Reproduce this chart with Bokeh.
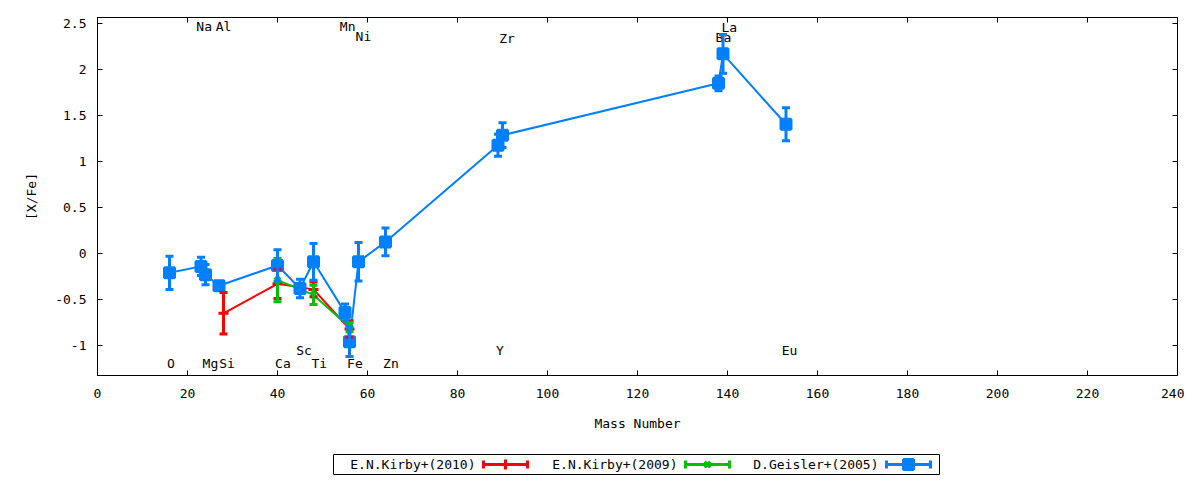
from bokeh.plotting import figure
from bokeh.models import (ColumnDataSource, Whisker, TeeHead, FixedTicker,
                          PrintfTickFormatter, LinearAxis, Range1d)
from bokeh.layouts import column
from bokeh.core.properties import value
from bokeh.embed import file_html
from bokeh.resources import INLINE

# ---------------- data ----------------
# E.N.Kirby+(2010)
kirby10_mass = [28, 40, 48, 56]
kirby10_xfe = [-0.65, -0.33, -0.39, -0.82]
kirby10_err = [0.225, 0.16, 0.08, 0.09]

# E.N.Kirby+(2009)
kirby09_mass = [40, 48, 56]
kirby09_xfe = [-0.29, -0.45, -0.80]
kirby09_err = [0.235, 0.105, 0.05]

# D.Geisler+(2005)
geisler_mass = [16, 23, 24, 27, 40, 45, 48, 55, 56, 58, 64, 89, 90, 138, 139, 153]
geisler_xfe = [-0.21, -0.14, -0.23, -0.35, -0.13, -0.38, -0.09, -0.64, -0.96,
               -0.09, 0.126, 1.177, 1.286, 1.85, 2.17, 1.405]
geisler_err = [0.18, 0.10, 0.11, 0.04, 0.17, 0.10, 0.20, 0.09, 0.16,
               0.21, 0.15, 0.12, 0.135, 0.08, 0.21, 0.18]

# element labels (name, mass position, [X/Fe] position)
elem_names = ["O", "Mg", "Si", "Ca", "Sc", "Ti", "Fe", "Zn", "Na", "Al",
              "Mn", "Ni", "Zr", "Ba", "La", "Y", "Eu"]
elem_x = [16.3, 25.1, 28.8, 41.2, 45.9, 49.3, 57.2, 65.2, 23.7, 28.0,
          55.6, 59.1, 91.0, 139.1, 140.4, 89.4, 153.8]
elem_y = [-1.198, -1.198, -1.198, -1.198, -1.05, -1.198, -1.198, -1.198, 2.463, 2.463,
          2.463, 2.36, 2.34, 2.345, 2.454, -1.05, -1.05]

x_ticks = [0, 20, 40, 60, 80, 100, 120, 140, 160, 180, 200, 220, 240]
y_ticks = [-1, -0.5, 0, 0.5, 1, 1.5, 2, 2.5]

series_names = ["E.N.Kirby+(2010)", "E.N.Kirby+(2009)", "D.Geisler+(2005)"]

# ---------------- style ----------------
FONT = "DejaVu Sans Mono"
FS = "13px"
RED = "#ff0000"
GREEN = "#00c000"
BLUE = "#0080ff"

FL, FW, FT, FH = 97, 1080, 17, 358   # frame left / width / top / height (px)

p = figure(frame_width=FW, frame_height=FH,
           min_border_left=FL, min_border_right=7, min_border_top=FT, min_border_bottom=57,
           x_range=Range1d(0, 240), y_range=Range1d(-1.326, 2.565),
           output_backend="svg", toolbar_location=None,
           background_fill_color="white", border_fill_color="white")
p.outline_line_color = "black"
p.xgrid.visible = False
p.ygrid.visible = False

for ax in p.xaxis:
    ax.ticker = FixedTicker(ticks=x_ticks)
for ax in p.yaxis:
    ax.ticker = FixedTicker(ticks=y_ticks)

def style_axis(ax):
    ax.formatter = PrintfTickFormatter(format="%g")
    ax.major_tick_in = 5
    ax.major_tick_out = 0
    ax.minor_tick_in = 0
    ax.minor_tick_out = 0
    ax.axis_line_color = "black"
    ax.major_tick_line_color = "black"
    ax.major_label_text_font = FONT
    ax.major_label_text_font_size = FS
    ax.major_label_text_color = "black"
    ax.axis_label_text_font = FONT
    ax.axis_label_text_font_size = FS
    ax.axis_label_text_font_style = "normal"
    ax.axis_label_text_color = "black"

style_axis(p.xaxis[0])
style_axis(p.yaxis[0])
p.xaxis[0].axis_label = "Mass Number"
p.yaxis[0].axis_label = "[X/Fe]"
p.xaxis[0].major_label_standoff = 13
p.xaxis[0].axis_label_standoff = 15
p.yaxis[0].major_label_standoff = 11
p.yaxis[0].axis_label_standoff = 13

top_ax = LinearAxis(ticker=FixedTicker(ticks=x_ticks))
style_axis(top_ax)
top_ax.major_label_overrides = {t: "" for t in x_ticks}
top_ax.major_label_standoff = 0
p.add_layout(top_ax, "above")
right_ax = LinearAxis(ticker=FixedTicker(ticks=y_ticks))
style_axis(right_ax)
right_ax.major_label_overrides = {t: "" for t in y_ticks}
right_ax.major_label_standoff = 0
p.add_layout(right_ax, "right")

def add_series(mass, xfe, err, color, marker, msize):
    src = ColumnDataSource(dict(
        x=mass, y=xfe,
        upper=[v + e for v, e in zip(xfe, err)],
        lower=[v - e for v, e in zip(xfe, err)]))
    p.line("x", "y", source=src, line_color=color, line_width=2)
    w = Whisker(base="x", upper="upper", lower="lower", source=src,
                line_color=color, line_width=3, level="glyph",
                upper_head=TeeHead(size=8, line_color=color, line_width=3),
                lower_head=TeeHead(size=8, line_color=color, line_width=3))
    p.add_layout(w)
    p.scatter("x", "y", source=src, marker=marker, size=msize,
              line_color=color, fill_color=color, line_width=3)

add_series(kirby10_mass, kirby10_xfe, kirby10_err, RED, "cross", 10)
add_series(kirby09_mass, kirby09_xfe, kirby09_err, GREEN, "x", 8)
add_series(geisler_mass, geisler_xfe, geisler_err, BLUE, "square", 10)

p.text(x=elem_x, y=elem_y, text=elem_names, text_font=value(FONT),
       text_font_size=FS, text_align="center", text_baseline="middle",
       text_color="black")

# ---------------- legend (separate strip, x in page pixels) ----------------
LH = 46
leg = figure(frame_width=FW, frame_height=LH, x_range=Range1d(FL, FL + FW),
             y_range=Range1d(LH, 0),
             min_border_left=FL, min_border_right=7, min_border_top=0, min_border_bottom=0,
             x_axis_location=None, y_axis_location=None,
             output_backend="svg", toolbar_location=None)
leg.outline_line_color = None
leg.xgrid.visible = False
leg.ygrid.visible = False

box_l, box_r, box_t, box_b = 333, 939, 21, 41
cy = (box_t + box_b) / 2
leg.quad(left=[box_l], right=[box_r], top=[box_t], bottom=[box_b],
         fill_color=None, line_color="black", line_width=1)

text_right = [475, 677, 878]
colors = [RED, GREEN, BLUE]
markers = ["cross", "x", "square"]
msizes = [10, 8, 10]
leg.text(x=text_right, y=[cy] * 3, text=series_names, text_font=value(FONT),
         text_font_size=FS, text_align="right", text_baseline="middle",
         text_color="black")
for tr, c, m, ms in zip(text_right, colors, markers, msizes):
    x0, x1 = tr + 8, tr + 52
    leg.segment(x0=[x0], y0=[cy], x1=[x1], y1=[cy], line_color=c, line_width=3)
    leg.segment(x0=[x0, x1], y0=[cy - 4, cy - 4], x1=[x0, x1], y1=[cy + 4, cy + 4],
                line_color=c, line_width=3)
    leg.scatter(x=[(x0 + x1) / 2], y=[cy], marker=m, size=ms, line_color=c,
                fill_color=c, line_width=3)

layout = column(p, leg, spacing=0)
open("out.html", "w").write(file_html(layout, INLINE))
